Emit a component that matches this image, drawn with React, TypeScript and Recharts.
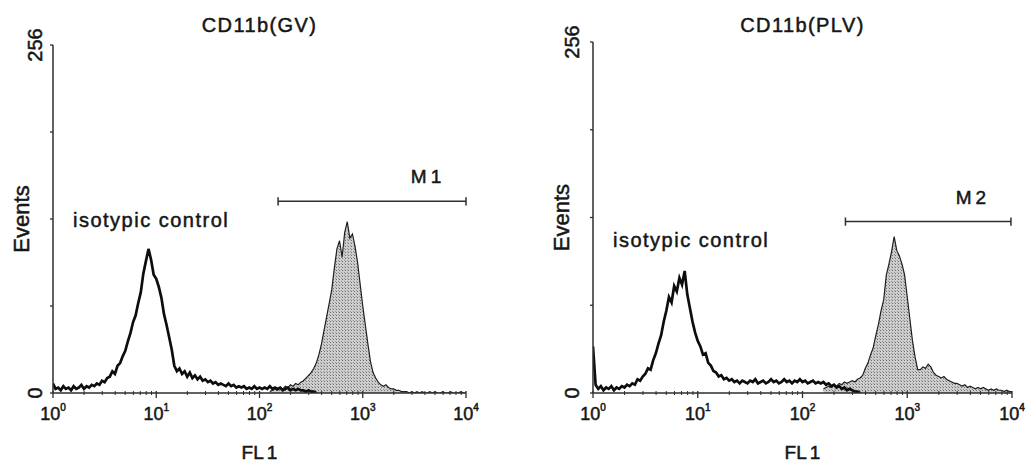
import React from 'react';
import { ComposedChart, Line, Area, XAxis, YAxis, ReferenceLine } from 'recharts';

// --- DATA (counts per channel, channels 0.025 decade wide starting at 10^0) ---

const BIN = 0.025;
const decades = [0, 1, 2, 3, 4];
const countTicks = [0, 64, 128, 192, 256];

// CD11b (GV): isotypic control
const gvIsotypic = [
  7, 3, 4, 2, 5, 3, 4, 2, 5, 3, 4, 6, 3, 5, 4, 6, 5, 7, 6, 9,
  8, 11, 12, 16, 14, 20, 22, 27, 31, 38, 44, 52, 57, 66, 74, 88, 97, 106, 98, 87,
  84, 78, 70, 58, 50, 41, 32, 20, 16, 18, 14, 16, 12, 15, 11, 13, 10, 12, 9, 10,
  8, 9, 7, 8, 6, 7, 6, 5, 7, 5, 6, 4, 5, 4, 5, 3, 4, 3, 5, 3,
  4, 3, 4, 3, 5, 3, 4, 3, 4, 2, 3, 4, 2, 3, 2, 3, 2, 2, 1, 2,
  1, 1, 0,
];
// CD11b (GV): stained sample, first channel at 10^2.1
const gvStainedStart = 2.1;
const gvStained = [
  1, 2, 3, 2, 4, 3, 5, 4, 6, 5, 7, 6, 8, 9, 11, 13, 15, 18, 22, 28,
  36, 46, 56, 66, 76, 92, 106, 112, 100, 118, 126, 114, 117, 108, 96, 80, 64, 50, 36, 23,
  15, 11, 8, 6, 5, 6, 4, 3, 3, 2, 2, 1, 1, 1, 0, 1, 0, 1, 0, 1,
  0, 0, 1, 0, 1, 0, 0, 1, 0, 0, 1, 0, 0, 0, 1, 0, 0,
];
const gvGate = [2.18, 4.0];
const gvGateLevel = 141;

// CD11b (PLV): isotypic control
const plvIsotypic = [
  34, 6, 3, 5, 2, 4, 3, 5, 2, 4, 3, 5, 4, 6, 5, 7, 6, 10, 9, 12,
  14, 18, 17, 24, 29, 36, 42, 52, 60, 70, 66, 78, 74, 84, 79, 89, 72, 62, 52, 44,
  38, 34, 28, 29, 22, 20, 16, 15, 12, 13, 10, 11, 9, 10, 8, 9, 7, 9, 8, 7,
  9, 8, 10, 7, 8, 9, 7, 8, 10, 8, 9, 7, 8, 10, 8, 9, 7, 9, 8, 10,
  8, 9, 7, 8, 9, 7, 8, 7, 8, 6, 7, 5, 6, 4, 5, 3, 4, 2, 3, 2,
  1, 1, 0,
];
// CD11b (PLV): stained sample, first channel at 10^2.2
const plvStainedStart = 2.2;
const plvStained = [
  3, 4, 5, 4, 6, 5, 7, 6, 8, 7, 8, 9, 8, 10, 11, 13, 18, 22, 28, 33,
  42, 50, 60, 68, 86, 94, 103, 114, 104, 100, 94, 86, 70, 54, 38, 26, 17, 17, 19, 18,
  21, 19, 15, 13, 12, 11, 12, 10, 9, 8, 7, 7, 6, 5, 6, 4, 5, 4, 3, 4,
  3, 4, 3, 2, 3, 2, 3, 2, 2, 1, 2, 1, 1,
];
const plvGate = [2.41, 3.99];
const plvGateLevel = 125;

// ---

const FONT = "'Liberation Sans', Arial, sans-serif";
const INK = '#161616';
const AXIS = '#2e2e2e';
// scanned print looks a bit heavier than the regular face
const heavy = { stroke: INK, strokeWidth: 0.5 };

const buildRows = (iso: number[], stainedStart: number, stained: number[]) => {
  const offset = Math.round(stainedStart / BIN);
  const n = Math.max(iso.length, offset + stained.length);
  return Array.from({ length: n }, (_, i) => ({
    fl1: +(i * BIN).toFixed(3),
    isotypic: i < iso.length ? iso[i] : null,
    cd11b: i >= offset && i - offset < stained.length ? stained[i - offset] : null,
  }));
};

// minor log ticks (2..9 of every decade) + decade ticks
const xTicks = decades.concat(
  decades.slice(0, 4).flatMap(d => [2, 3, 4, 5, 6, 7, 8, 9].map(k => d + Math.log10(k)))
);

const XTick = (props: any) => {
  const { x, y, payload } = props;
  const v = payload.value;
  const major = Math.abs(v - Math.round(v)) < 1e-6;
  if (!major) {
    return <line x1={x} x2={x} y1={y - 2} y2={y + 2} stroke={AXIS} strokeWidth={1} />;
  }
  return (
    <g>
      <line x1={x} x2={x} y1={y - 2} y2={y + 5} stroke={AXIS} strokeWidth={1.3} />
      <text x={x} y={y + 27} textAnchor="middle" fontSize={18} fill={INK} fontFamily={FONT} {...heavy}>
        10<tspan fontSize={10} dy={-9}>{Math.round(v)}</tspan>
      </text>
    </g>
  );
};

const makeYTick = (labelGap: number) => (props: any) => {
  const { x, y, payload } = props;
  const v = payload.value;
  const showLabel = v === 0 || v === 256;
  return (
    <g>
      <line x1={x - 3} x2={x} y1={y} y2={y} stroke={AXIS} strokeWidth={1.3} />
      {showLabel && (
        <text
          x={x - labelGap}
          y={y}
          transform={`rotate(-90, ${x - labelGap}, ${y})`}
          textAnchor="middle"
          dominantBaseline="central"
          fontSize={20}
          fill={INK}
          fontFamily={FONT}
          {...heavy}
        >
          {v}
        </text>
      )}
    </g>
  );
};

const panels = [
  {
    id: 'gv',
    title: 'CD11b(GV)',
    rows: buildRows(gvIsotypic, gvStainedStart, gvStained),
    gate: gvGate,
    gateLevel: gvGateLevel,
    gateName: 'M',
    gateNo: '1',
    left: 0,
    width: 514,
    margin: { top: 45, right: 48, left: 0, bottom: 0 },
    yAxisWidth: 53,
    labelGap: 18,
    isoLabel: { x: 73, y: 227 },
  },
  {
    id: 'plv',
    title: 'CD11b(PLV)',
    rows: buildRows(plvIsotypic, plvStainedStart, plvStained),
    gate: plvGate,
    gateLevel: plvGateLevel,
    gateName: 'M',
    gateNo: '2',
    left: 514,
    width: 512,
    margin: { top: 42, right: 14, left: 0, bottom: 0 },
    yAxisWidth: 79,
    labelGap: 21,
    isoLabel: { x: 99, y: 247 },
  },
];

const HEIGHT = 464;

const Panel = ({ p }: { p: (typeof panels)[number] }) => {
  const plotLeft = p.margin.left + p.yAxisWidth;
  const plotWidth = p.width - plotLeft - p.margin.right;
  const capHalf = 3;
  return (
    <div style={{ position: 'absolute', left: p.left, top: 0, width: p.width, height: HEIGHT }}>
      <ComposedChart width={p.width} height={HEIGHT} data={p.rows} margin={p.margin}>
        <defs>
          <pattern id={`stipple-${p.id}`} width="3" height="3" patternUnits="userSpaceOnUse">
            <rect width="3" height="3" fill="#cdcdcd" />
            <rect width="1" height="1" fill="#6e6e6e" />
            <rect x="2" y="2" width="1" height="1" fill="#9a9a9a" />
          </pattern>
        </defs>
        <XAxis
          type="number"
          dataKey="fl1"
          domain={[0, 4]}
          ticks={xTicks}
          interval={0}
          allowDataOverflow
          height={71}
          tickSize={0}
          tickMargin={0}
          tick={XTick}
          axisLine={{ stroke: AXIS, strokeWidth: 1.5 }}
          label={(lp: any) => {
            const vb = lp.viewBox;
            return (
              <text x={vb.x + vb.width / 2} y={vb.y + 66} textAnchor="middle" fontSize={19} fill={INK} fontFamily={FONT} {...heavy}>
                FL<tspan dx={3}>1</tspan>
              </text>
            );
          }}
        />
        <YAxis
          type="number"
          domain={[0, 256]}
          ticks={countTicks}
          interval={0}
          allowDataOverflow
          width={p.yAxisWidth}
          tickSize={0}
          tickMargin={0}
          tick={makeYTick(p.labelGap)}
          axisLine={{ stroke: AXIS, strokeWidth: 1.5 }}
          label={(lp: any) => {
            const vb = lp.viewBox;
            const cx = vb.x + vb.width - 32;
            const cy = vb.y + vb.height / 2;
            return (
              <text
                x={cx}
                y={cy}
                transform={`rotate(-90, ${cx}, ${cy})`}
                textAnchor="middle"
                dominantBaseline="central"
                fontSize={22}
                fill={INK}
                fontFamily={FONT}
                {...heavy}
              >
                Events
              </text>
            );
          }}
        />
        <Area
          type="linear"
          dataKey="cd11b"
          stroke="#1f1f1f"
          strokeWidth={1.2}
          fill={`url(#stipple-${p.id})`}
          fillOpacity={1}
          dot={false}
          activeDot={false}
          isAnimationActive={false}
        />
        <Line
          type="linear"
          dataKey="isotypic"
          stroke="#0d0d0d"
          strokeWidth={2.7}
          dot={false}
          activeDot={false}
          isAnimationActive={false}
        />
        <ReferenceLine
          segment={[{ x: p.gate[0], y: p.gateLevel }, { x: p.gate[1], y: p.gateLevel }]}
          stroke={AXIS}
          strokeWidth={1.5}
          label={(lp: any) => {
            const vb = lp.viewBox;
            return (
              <text x={vb.x + vb.width - 40} y={vb.y - 18} textAnchor="middle" fontSize={19} fill={INK} fontFamily={FONT} {...heavy}>
                {p.gateName}<tspan dx={4}>{p.gateNo}</tspan>
              </text>
            );
          }}
        />
        {p.gate.map(g => (
          <ReferenceLine
            key={g}
            segment={[{ x: g, y: p.gateLevel - capHalf }, { x: g, y: p.gateLevel + capHalf }]}
            stroke={AXIS}
            strokeWidth={1.5}
          />
        ))}
      </ComposedChart>
      <svg
        width={p.width}
        height={HEIGHT}
        style={{ position: 'absolute', left: 0, top: 0, pointerEvents: 'none' }}
      >
        <text
          x={plotLeft + plotWidth / 2}
          y={32}
          textAnchor="middle"
          fontSize={20}
          letterSpacing={1.4}
          fill={INK}
          fontFamily={FONT}
          {...heavy}
        >
          {p.title}
        </text>
        <text
          x={p.isoLabel.x}
          y={p.isoLabel.y}
          fontSize={20}
          letterSpacing={1.5}
          fill={INK}
          fontFamily={FONT}
          {...heavy}
        >
          isotypic control
        </text>
      </svg>
    </div>
  );
};

export default function App() {
  return (
    <div
      style={{
        position: 'absolute',
        left: 0,
        top: 0,
        width: 1026,
        height: HEIGHT,
        background: '#fff',
        overflow: 'hidden',
      }}
    >
      {panels.map(p => (
        <Panel key={p.id} p={p} />
      ))}
    </div>
  );
}
